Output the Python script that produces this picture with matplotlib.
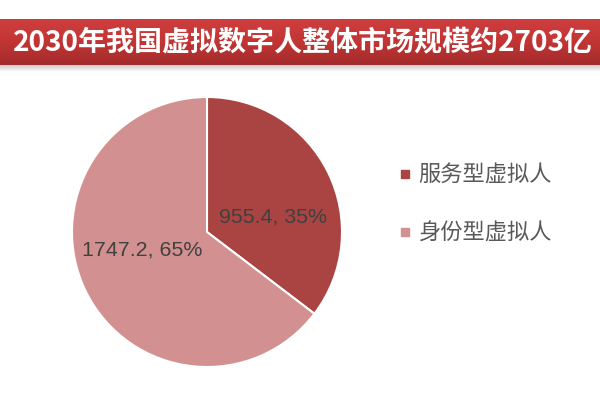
import matplotlib
matplotlib.use("Agg")
import matplotlib.pyplot as plt
import numpy as np
from matplotlib.lines import Line2D

plt.rcParams['font.family'] = ['Noto Sans CJK SC', 'DejaVu Sans']

title = "2030年我国虚拟数字人整体市场规模约2703亿"
categories = ["服务型虚拟人", "身份型虚拟人"]
values = [955.4, 1747.2]
colors = ["#A94442", "#D29190"]

fig = plt.figure(figsize=(6, 4), dpi=100)
fig.patch.set_facecolor("white")

# banner shadow
sh = fig.add_axes([0, 1 - 72 / 400, 1, 8 / 400])
sh.axis("off")
g2 = np.linspace(0, 1, 64).reshape(-1, 1)
sh.imshow(g2, aspect="auto", cmap=matplotlib.colors.LinearSegmentedColormap.from_list("s", ["#bdbdbd", "#ffffff"]), extent=[0, 1, 0, 1])

# banner
ban = fig.add_axes([0, 1 - 65 / 400, 1, 46 / 400])
ban.axis("off")
g = np.linspace(0, 1, 128).reshape(-1, 1)
cm = matplotlib.colors.LinearSegmentedColormap.from_list("b", ["#CF3E3E", "#C23535", "#A32B2B"])
ban.imshow(g, aspect="auto", cmap=cm, extent=[0, 1, 0, 1])
ban.set_xlim(0, 1); ban.set_ylim(0, 1)
ban.text(13 / 600, 0.5, title, color="white", fontsize=20.2, fontweight="bold",
         ha="left", va="center", transform=ban.transAxes,
         family=["Noto Sans CJK SC", "DejaVu Sans"])

# pie
ax = fig.add_axes([72 / 600, 1 - 367 / 400, 270 / 600, 270 / 400])
wedges, _ = ax.pie(values, colors=colors, startangle=90, counterclock=False,
                   wedgeprops=dict(edgecolor="white", linewidth=1.5))
ax.set_xlim(-1, 1); ax.set_ylim(-1, 1)
ax.set_aspect("equal")

total = sum(values)
label_offsets = [(0.49, 0.11), (-0.48, -0.13)]
for v, (dx, dy) in zip(values, label_offsets):
    ax.text(dx, dy, f"{v}, {round(v / total * 100)}%", ha="center", va="center",
            fontsize=15.4, color="#404040", family=["Liberation Sans", "DejaVu Sans"])

handles = [Line2D([], [], marker="s", linestyle="", markersize=6, color=c) for c in colors]
leg = fig.legend(handles, categories, loc="upper left", bbox_to_anchor=(377 / 600, 1 - 144 / 400),
                 frameon=False, fontsize=16, labelspacing=1.55, handlelength=0.7,
                 handletextpad=0.25, labelcolor="#595959")

fig.savefig("out.png", dpi=100)
